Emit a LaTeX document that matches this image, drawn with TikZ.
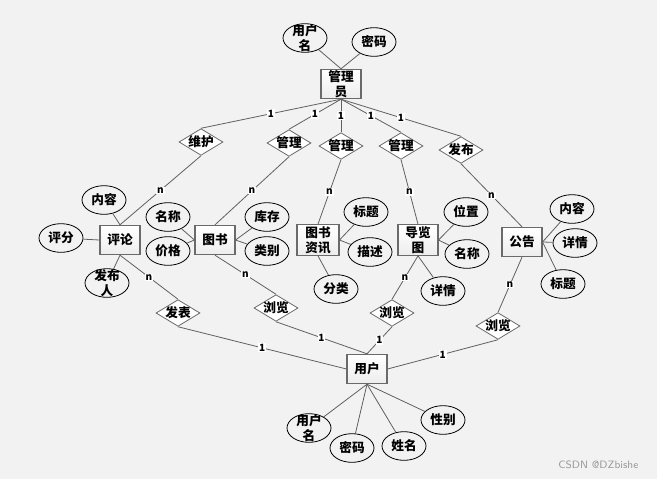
\documentclass[tikz,border=0pt]{standalone}
\usepackage{fontspec}
\setmainfont{Noto Sans CJK SC}
\usetikzlibrary{shapes.geometric}
\definecolor{paper}{HTML}{F2F2F2}
\definecolor{ink}{HTML}{000000}
\definecolor{wire}{HTML}{606060}
\definecolor{frame}{HTML}{6A6A6A}
\definecolor{shade}{HTML}{EDEDED}
\definecolor{faint}{HTML}{9A9A9A}
\tikzset{
  font=\fontsize{9.5}{11}\selectfont\bfseries,
  %
  entity/.style={
    draw=frame, line width=0.8pt, top color=white, bottom color=shade,
    minimum width=30pt, minimum height=22pt, inner xsep=1pt, inner ysep=0pt,
    align=center, text=ink,
  },
  attr/.style={
    ellipse, draw=ink, line width=0.6pt, fill=paper, align=center, text=ink,
    minimum width=33pt, minimum height=21.5pt, inner xsep=0pt, inner ysep=0pt,
  },
  attrtwo/.style={attr, inner ysep=-2.5pt},
  rel/.style={
    diamond, draw=frame, line width=0.6pt, fill=white, aspect=1.6,
    minimum width=33pt, minimum height=20pt, inner sep=-1pt, text=ink,
  },
  %
  link/.style={draw=wire, line width=0.6pt},
  card/.style={fill=white, inner sep=0.6pt, text=ink,
               font=\fontsize{7.5}{8}\selectfont\bfseries},
  stamp/.style={text=faint, font=\fontsize{8}{9}\sffamily},
}

\begin{document}
\begin{tikzpicture}[x=0.75pt, y=-0.75pt]

\fill[paper] (0,0) rectangle (657,479);
\useasboundingbox (0,0) rectangle (657,479);

% =========================================================================
% entities
\node[entity] (admin) at (341,84)  {管理\\员};
\node[entity] (cmt)   at (120,240) {评论};
\node[entity] (book)  at (215,240) {图书};
\node[entity, minimum width=31.5pt, minimum height=23pt] (info) at (318,240) {图书\\资讯};
\node[entity, minimum height=23pt] (guide) at (418,240) {导览\\图};
\node[entity] (notice) at (522,242) {公告};
\node[entity] (user)  at (367,369) {用户};

% =========================================================================
% relations
\node[rel] (keep)   at (201,142) {维护};
\node[rel] (mgbook) at (289,143) {管理};
\node[rel] (mginfo) at (341,146) {管理};
\node[rel] (mgguide) at (401,146) {管理};
\node[rel] (pub)    at (461,150) {发布};
\node[rel] (post)   at (178,313) {发表};
\node[rel] (vbook)  at (276,308) {浏览};
\node[rel] (vguide) at (392,313) {浏览};
\node[rel] (vnote)  at (498,326) {浏览};

% =========================================================================
% attributes
\node[attrtwo] (aname) at (305,38) {用户\\名};
\node[attr] (apwd)  at (374,42) {密码};

\node[attr] (ctext) at (104,200) {内容};
\node[attr] (cscore) at (61,238) {评分};
\node[attrtwo] (cby) at (107,283) {发布\\人};

\node[attr] (bname)  at (168,217) {名称};
\node[attr] (bprice) at (168,251) {价格};
\node[attr] (bstock) at (267,217) {库存};
\node[attr] (bkind)  at (267,251) {类别};

\node[attr] (ititle) at (366,212) {标题};
\node[attr] (idesc)  at (370,252) {描述};
\node[attr] (isort)  at (336,289) {分类};

\node[attr] (gplace) at (466,212) {位置};
\node[attr] (gname)  at (467,254) {名称};
\node[attr] (gmore)  at (443,291) {详情};

\node[attr] (ntext)  at (572,209) {内容};
\node[attr] (nmore)  at (575,243) {详情};
\node[attr] (ntitle) at (563,284) {标题};

\node[attrtwo] (uname) at (309,428) {用户\\名};
\node[attr] (upwd)  at (352,448) {密码};
\node[attr] (ureal) at (404,446) {姓名};
\node[attr] (usex)  at (443,420) {性别};

% =========================================================================
% attribute links
\draw[link] (aname) -- (admin.north);
\draw[link] (apwd) -- (admin.north);

\draw[link] (ctext) -- (cmt.north);
\draw[link] (cscore) -- (cmt.west);
\draw[link] (cby) -- (cmt.south);

\draw[link] (bname) -- (book.west);
\draw[link] (bprice) -- (book.west);
\draw[link] (bstock) -- (book.east);
\draw[link] (bkind) -- (book.east);

\draw[link] (ititle) -- (info.east);
\draw[link] (idesc) -- (info.east);
\draw[link] (isort) -- (info.south);

\draw[link] (gplace) -- (guide.east);
\draw[link] (gname) -- (guide.east);
\draw[link] (gmore) -- (guide.south);

\draw[link] (ntext) -- (notice.east);
\draw[link] (nmore) -- (notice.east);
\draw[link] (ntitle) -- (notice.east);

\draw[link] (uname) -- (user.south);
\draw[link] (upwd) -- (user.south);
\draw[link] (ureal) -- (user.south);
\draw[link] (usex) -- (user.south);

% =========================================================================
% relation links
\draw[link] (admin.south) -- node[card] {1} (keep.north);
\draw[link] (admin.south) -- node[card] {1} (mgbook.north);
\draw[link] (admin.south) -- node[card] {1} (mginfo.north);
\draw[link] (admin.south) -- node[card] {1} (mgguide.north);
\draw[link] (admin.south) -- node[card] {1} (pub.north);

\draw[link] (keep.south) -- node[card] {n} (cmt.north);
\draw[link] (mgbook.south) -- node[card] {n} (book.north);
\draw[link] (mginfo.south) -- node[card] {n} (info.north);
\draw[link] (mgguide.south) -- node[card] {n} (guide.north);
\draw[link] (pub.south) -- node[card] {n} (notice.north);

\draw[link] (cmt.south) -- node[card] {n} (post.north);
\draw[link] (book.south) -- node[card] {n} (vbook.north);
\draw[link] (guide.south) -- node[card] {n} (vguide.north);
\draw[link] (notice.south) -- node[card] {n} (vnote.north);

\draw[link] (post.south) -- node[card] {1} (user.west);
\draw[link] (vbook.south) -- node[card] {1} (user.north);
\draw[link] (vguide.south) -- node[card] {1} (user.north);
\draw[link] (vnote.south) -- node[card] {1} (user.east);

\node[stamp, anchor=east] (sign) at (643,465) {CSDN @DZbishe};

\end{tikzpicture}
\end{document}
